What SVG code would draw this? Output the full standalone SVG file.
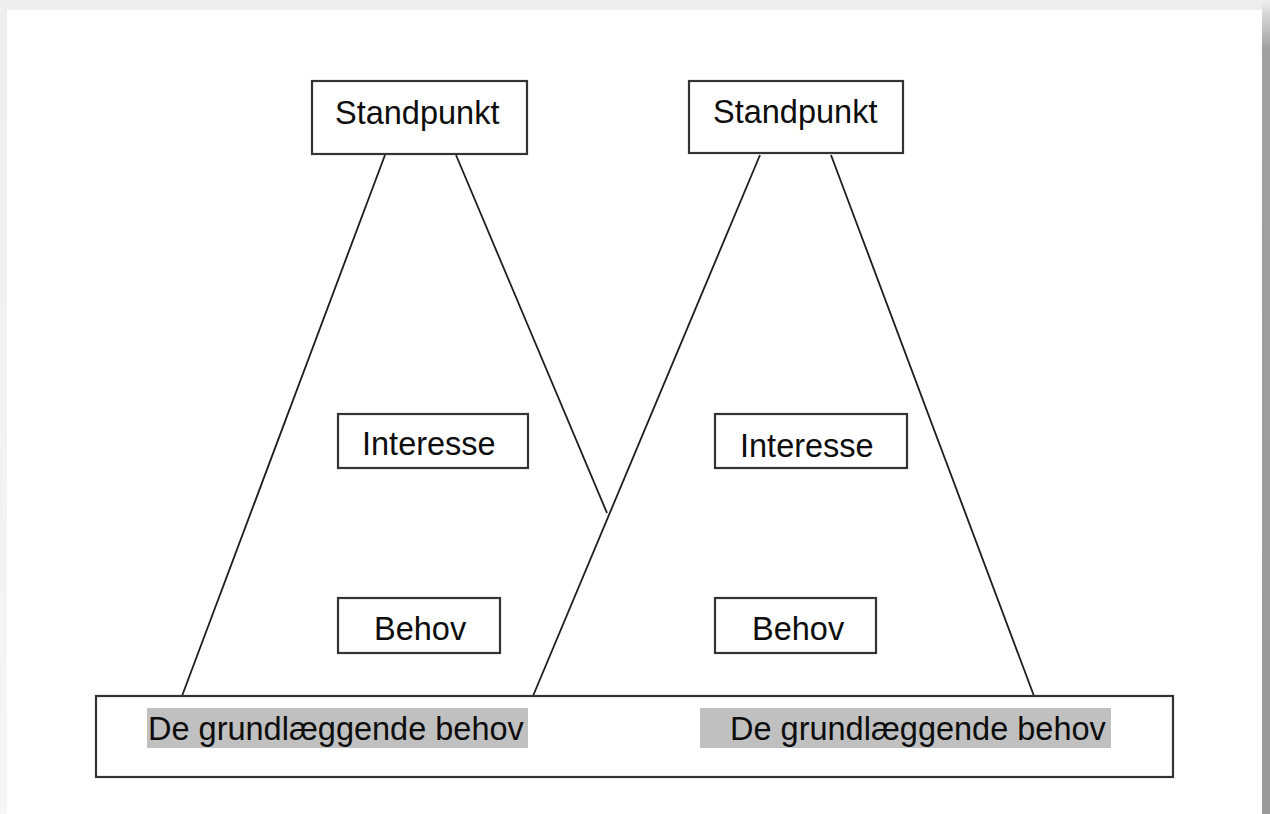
<svg xmlns="http://www.w3.org/2000/svg" width="1270" height="814" viewBox="0 0 1270 814">
  <defs>
    <linearGradient id="edge" x1="0" y1="0" x2="0" y2="1">
      <stop offset="0" stop-color="#eeeeee"/>
      <stop offset="0.06" stop-color="#a0a0a0"/>
      <stop offset="1" stop-color="#999999"/>
    </linearGradient>
    <linearGradient id="topfade" x1="0" y1="0" x2="0" y2="1">
      <stop offset="0" stop-color="#eeeeee"/>
      <stop offset="1" stop-color="#f6f6f6"/>
    </linearGradient>
  </defs>
  <style>
    .box { fill: #ffffff; stroke: #333333; stroke-width: 2.2; }
    .lbl { font-family: "Liberation Sans", Arial, sans-serif; font-size: 32.5px; fill: #0d0d0d; }
    .hl { fill: #c0c0c0; }
    .edge { stroke: #1e1e1e; stroke-width: 1.8; fill: none; }
  </style>

  <!-- page backdrop -->
  <rect x="0" y="0" width="1270" height="814" fill="url(#topfade)"/>
  <rect x="1262" y="0" width="8" height="814" fill="url(#edge)"/>
  <rect x="7" y="10" width="1255" height="804" fill="#ffffff"/>

  <!-- connectors -->
  <g id="connectors">
    <line class="edge" x1="385" y1="155" x2="182" y2="696"/>
    <line class="edge" x1="456" y1="155" x2="607" y2="513"/>
    <line class="edge" x1="760" y1="155" x2="533" y2="696"/>
    <line class="edge" x1="831" y1="155" x2="1034" y2="696"/>
  </g>

  <!-- base -->
  <g id="base">
    <rect class="box" x="96" y="696" width="1077" height="81"/>
    <rect class="hl" x="147" y="708" width="381" height="40"/>
    <rect class="hl" x="700" y="708" width="411" height="40"/>
    <text class="lbl" x="148" y="740">De grundlæggende behov</text>
    <text class="lbl" x="730" y="740">De grundlæggende behov</text>
  </g>

  <!-- left column -->
  <g id="standpunkt-1">
    <rect class="box" x="312" y="81" width="215" height="73"/>
    <text class="lbl" x="335" y="124">Standpunkt</text>
  </g>
  <g id="interesse-1">
    <rect class="box" x="338" y="414" width="190" height="54"/>
    <text class="lbl" x="362" y="455">Interesse</text>
  </g>
  <g id="behov-1">
    <rect class="box" x="338" y="598" width="162" height="55"/>
    <text class="lbl" x="374" y="640">Behov</text>
  </g>

  <!-- right column -->
  <g id="standpunkt-2">
    <rect class="box" x="689" y="81" width="214" height="72"/>
    <text class="lbl" x="713" y="123">Standpunkt</text>
  </g>
  <g id="interesse-2">
    <rect class="box" x="715" y="414" width="192" height="54"/>
    <text class="lbl" x="740" y="457">Interesse</text>
  </g>
  <g id="behov-2">
    <rect class="box" x="715" y="598" width="161" height="55"/>
    <text class="lbl" x="752" y="640">Behov</text>
  </g>
</svg>
